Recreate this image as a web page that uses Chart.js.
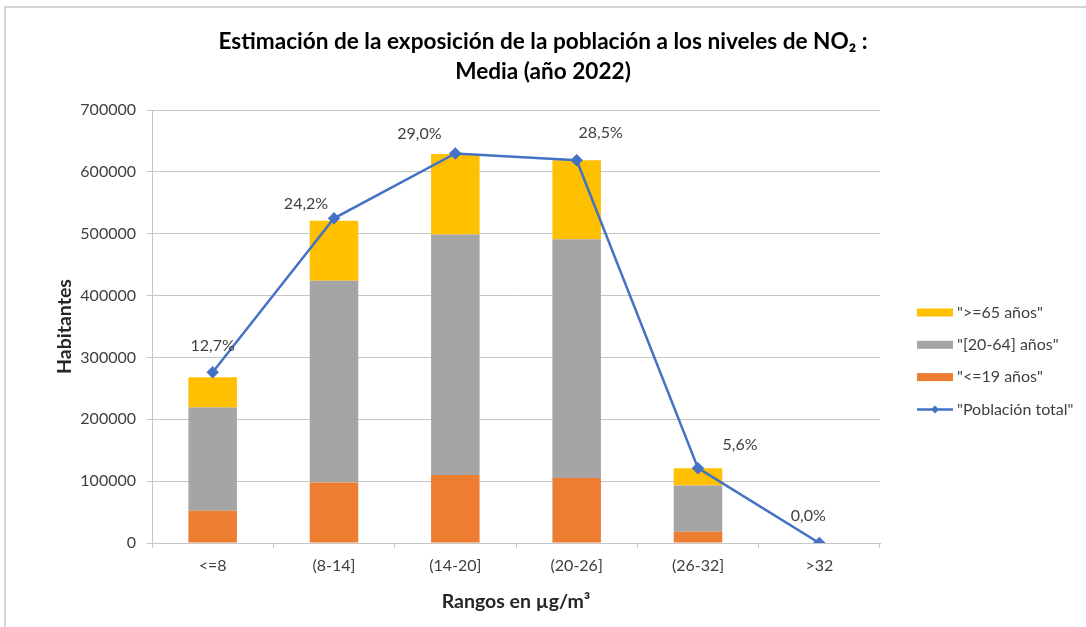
<!DOCTYPE html>
<html lang="es">
<head>
<meta charset="utf-8">
<title>Exposición de la población a NO₂ (2022)</title>
<script src="https://cdn.jsdelivr.net/npm/chart.js@4.4.1/dist/chart.umd.min.js"></script>
<style>
  html, body { margin: 0; padding: 0; background: #ffffff; }
  #wrap { position: relative; width: 1086px; height: 627px; }
</style>
</head>
<body>
<div id="wrap"><canvas id="grafico" width="1086" height="627"></canvas></div>
<script>
// Rangos de concentración media de NO2 (µg/m³)
const categorias = ['<=8', '(8-14]', '(14-20]', '(20-26]', '(26-32]', '>32'];

// Habitantes por grupo de edad en cada rango
const menores19 = [52000, 98000, 110000, 105000, 18000, 0];
const adultos20a64 = [167000, 326000, 389000, 386000, 75000, 0];
const mayores65 = [49000, 97000, 130000, 128000, 28000, 0];

// Población total expuesta en cada rango
const poblacionTotal = [276000, 525000, 630000, 619000, 121000, 0];

// Marcas del eje vertical
const ticksY = [0, 100000, 200000, 300000, 400000, 500000, 600000, 700000];

const FUENTE = 'Lato, "Open Sans", "Liberation Sans", sans-serif';
const GRIS_TEXTO = '#404040';
const GRIS_REJILLA = '#C6C6C6';

// Porcentaje de cada rango sobre la población total, con coma decimal
const sumaTotal = poblacionTotal.reduce((a, b) => a + b, 0);
const porcentajes = poblacionTotal.map(v => (v / sumaTotal * 100).toFixed(1).replace('.', ',') + '%');

// Fondo blanco y marco del gráfico
const marco = {
  id: 'marco',
  beforeDraw(chart) {
    const ctx = chart.ctx;
    ctx.save();
    ctx.fillStyle = '#ffffff';
    ctx.fillRect(0, 0, chart.width, chart.height);
    ctx.strokeStyle = '#C8C8C8';
    ctx.lineWidth = 1.5;
    ctx.beginPath();
    ctx.moveTo(5, chart.height + 2);
    ctx.lineTo(5, 7);
    ctx.lineTo(chart.width + 2, 7);
    ctx.stroke();
    ctx.restore();
  }
};

// Etiquetas de porcentaje junto a cada punto de la línea
const etiquetasPct = {
  id: 'etiquetasPct',
  afterDatasetsDraw(chart, args, opts) {
    const meta = chart.getDatasetMeta(opts.datasetIndex);
    const ctx = chart.ctx;
    ctx.save();
    ctx.font = opts.font;
    ctx.fillStyle = opts.color;
    ctx.textAlign = 'center';
    ctx.textBaseline = 'middle';
    meta.data.forEach((pt, i) => {
      const off = opts.offsets[i] || [0, -24];
      ctx.fillText(porcentajes[i], pt.x + off[0], pt.y + off[1]);
    });
    ctx.restore();
  }
};

// Leyenda a la derecha del área de trazado
const leyenda = {
  id: 'leyenda',
  afterDraw(chart, args, opts) {
    const ctx = chart.ctx;
    ctx.save();
    ctx.font = opts.font;
    ctx.textBaseline = 'middle';
    ctx.textAlign = 'left';
    opts.orden.forEach((dsIndex, row) => {
      const ds = chart.data.datasets[dsIndex];
      const y = opts.top + row * opts.paso;
      const x = opts.left;
      if (ds.type === 'line') {
        ctx.strokeStyle = ds.borderColor;
        ctx.lineWidth = ds.borderWidth;
        ctx.beginPath();
        ctx.moveTo(x, y);
        ctx.lineTo(x + opts.ancho, y);
        ctx.stroke();
        ctx.fillStyle = ds.borderColor;
        const r = 4;
        const cx = x + opts.ancho / 2;
        ctx.beginPath();
        ctx.moveTo(cx, y - r);
        ctx.lineTo(cx + r, y);
        ctx.lineTo(cx, y + r);
        ctx.lineTo(cx - r, y);
        ctx.closePath();
        ctx.fill();
      } else {
        ctx.fillStyle = ds.backgroundColor;
        ctx.fillRect(x, y - opts.alto / 2, opts.ancho, opts.alto);
      }
      ctx.fillStyle = opts.color;
      ctx.fillText(ds.label, x + opts.ancho + 4, y);
    });
    ctx.restore();
  }
};

new Chart(document.getElementById('grafico'), {
  data: {
    labels: categorias,
    datasets: [
      { type: 'bar', label: '"<=19 años"', data: menores19, backgroundColor: '#ED7D31', stack: 'edades', order: 1 },
      { type: 'bar', label: '"[20-64] años"', data: adultos20a64, backgroundColor: '#A5A5A5', stack: 'edades', order: 1 },
      { type: 'bar', label: '">=65 años"', data: mayores65, backgroundColor: '#FFC000', stack: 'edades', order: 1 },
      {
        type: 'line', label: '"Población total"', data: poblacionTotal, stack: 'total', order: 0,
        borderColor: '#4472C4', backgroundColor: '#4472C4', borderWidth: 2.5,
        pointStyle: 'rectRot', pointRadius: 4.5, pointHoverRadius: 4.5, tension: 0, fill: false
      }
    ]
  },
  options: {
    responsive: false,
    animation: false,
    devicePixelRatio: 1,
    events: [],
    layout: { padding: { left: 0, right: 0, top: 0, bottom: 0 } },
    datasets: { bar: { barPercentage: 0.4, categoryPercentage: 1.0 } },
    scales: {
      x: {
        stacked: true,
        grid: { display: true, drawOnChartArea: false, drawTicks: true, tickLength: 5, color: GRIS_REJILLA, offset: true },
        border: { display: true, color: GRIS_REJILLA, width: 1 },
        ticks: { color: GRIS_TEXTO, font: { family: FUENTE, size: 16 }, padding: 8, maxRotation: 0 },
        title: {
          display: true, text: 'Rangos en µg/m³', color: '#262626',
          font: { family: FUENTE, size: 19.5, weight: 'bold' }, padding: { top: 0, bottom: 14 }
        },
        afterFit(scale) { scale.height = 84; }
      },
      y: {
        stacked: true,
        min: 0, max: 700000,
        afterBuildTicks(scale) { scale.ticks = ticksY.map(v => ({ value: v })); },
        grid: { color: GRIS_REJILLA, lineWidth: 1, drawTicks: true, tickLength: 5 },
        border: { display: true, color: GRIS_REJILLA, width: 1 },
        ticks: { color: GRIS_TEXTO, font: { family: FUENTE, size: 16 }, padding: 11, callback: v => String(v) },
        title: {
          display: true, text: 'Habitantes', color: '#262626',
          font: { family: FUENTE, size: 19.5, weight: 'bold' }, padding: { top: 53, bottom: 0 }
        },
        afterFit(scale) { scale.width = 152; }
      },
      // Franja derecha reservada para la leyenda (sin marcas propias)
      franjaLeyenda: {
        type: 'linear',
        position: 'right',
        display: true,
        grid: { display: false, drawTicks: false },
        border: { display: false },
        ticks: { display: false },
        afterFit(scale) { scale.width = 206; }
      }
    },
    plugins: {
      legend: { display: false },
      tooltip: { enabled: false },
      title: {
        display: true,
        text: ['Estimación de la exposición de la población a los niveles de NO₂ :', 'Media (año 2022)'],
        color: '#000000',
        font: { family: FUENTE, size: 22.6, weight: 'bold', lineHeight: 1.33 },
        padding: { top: 27, bottom: 23 }
      },
      etiquetasPct: {
        datasetIndex: 3,
        font: '16px ' + FUENTE,
        color: GRIS_TEXTO,
        offsets: [[0, -26], [-28, -14], [-36, -20], [24, -27], [42, -23], [-11, -27]]
      },
      leyenda: {
        orden: [2, 1, 0, 3],
        left: 917, top: 312.5, paso: 32.3, ancho: 36, alto: 8,
        font: '16px ' + FUENTE, color: GRIS_TEXTO
      }
    }
  },
  plugins: [marco, etiquetasPct, leyenda]
});
</script>
</body>
</html>
